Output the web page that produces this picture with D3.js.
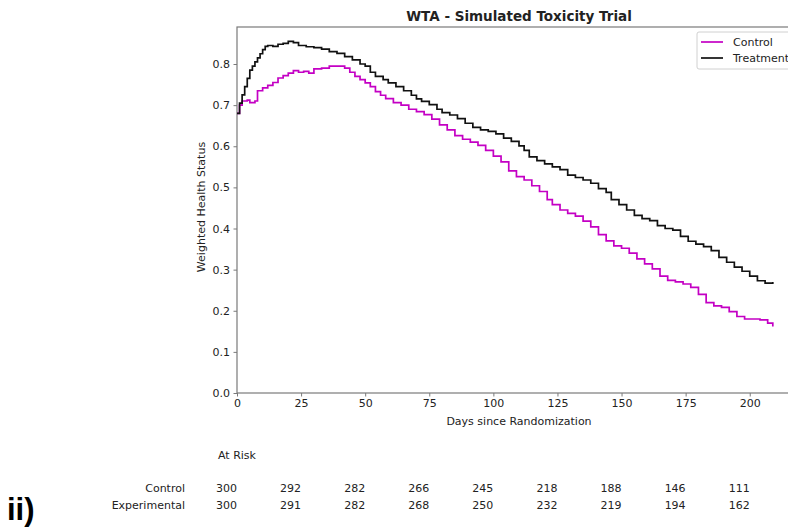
<!DOCTYPE html>
<html>
<head>
<meta charset="utf-8">
<script src="https://cdn.jsdelivr.net/npm/d3@7"></script>
<style>
  body { margin: 0; background: #fff; }
  svg { font-family: "DejaVu Sans", sans-serif; }
</style>
</head>
<body>
<svg id="chart" width="788" height="527"></svg>
<script>
// Step curves (day, weighted health status)
const treatDays = [0,1,2,3,4,5,6,7,8,9,10,11,12,14,16,18,20,22,24,27,30,33,36,39,42,45,48,50,52,54,57,59,62,65,68,70,72,75,78,80,83,86,89,92,95,98,101,104,107,110,112,114,117,120,123,126,129,132,135,138,141,144,146,149,152,155,158,161,164,167,170,173,176,179,182,185,188,191,194,197,200,203,206,209];
const treatValues = [0.680,0.705,0.725,0.745,0.765,0.785,0.795,0.805,0.815,0.825,0.835,0.843,0.845,0.843,0.848,0.850,0.855,0.852,0.845,0.842,0.840,0.836,0.830,0.826,0.818,0.810,0.800,0.795,0.780,0.770,0.762,0.754,0.745,0.735,0.724,0.715,0.709,0.701,0.690,0.682,0.676,0.667,0.656,0.646,0.640,0.636,0.630,0.620,0.612,0.601,0.590,0.574,0.565,0.557,0.550,0.543,0.530,0.524,0.518,0.510,0.497,0.488,0.470,0.458,0.445,0.432,0.424,0.419,0.407,0.400,0.396,0.381,0.369,0.362,0.356,0.346,0.330,0.318,0.306,0.296,0.284,0.273,0.267,0.270];

const ctrlDays = [0,1,2,4,5,7,8,10,12,14,16,18,20,22,24,26,28,30,33,36,39,42,44,46,48,50,52,54,56,58,61,64,67,70,73,76,79,82,85,88,91,94,97,100,103,106,109,112,115,118,121,123,126,129,132,135,138,141,144,147,150,153,156,159,162,165,168,171,174,177,180,183,186,189,192,195,198,201,204,207,209];
const ctrlValues = [0.680,0.700,0.710,0.712,0.706,0.710,0.735,0.742,0.748,0.755,0.766,0.772,0.778,0.784,0.780,0.782,0.778,0.788,0.790,0.795,0.795,0.790,0.780,0.770,0.762,0.754,0.745,0.733,0.724,0.716,0.706,0.700,0.690,0.684,0.677,0.666,0.652,0.640,0.626,0.617,0.610,0.602,0.590,0.576,0.562,0.540,0.526,0.518,0.504,0.490,0.470,0.458,0.445,0.437,0.430,0.418,0.404,0.385,0.370,0.358,0.352,0.340,0.326,0.314,0.302,0.284,0.274,0.270,0.265,0.257,0.240,0.220,0.212,0.208,0.198,0.186,0.180,0.180,0.178,0.170,0.162];

// At-risk table
const riskDays = [0,25,50,75,100,125,150,175,200];
const riskControl = [300,292,282,266,245,218,188,146,111];
const riskExperimental = [300,291,282,268,250,232,219,194,162];

const xTicks = [0,25,50,75,100,125,150,175,200];
const yTicks = [0,0.1,0.2,0.3,0.4,0.5,0.6,0.7,0.8];

const svg = d3.select("#chart");
const margin = {top: 27, left: 237, bottom: 393, right: 801};
const spineColor = "#7a7a7a";
const textColor = "#222";
const magenta = "#c400c4";
const fs = "11px";

const x = d3.scaleLinear().domain([0, 220]).range([margin.left, margin.right]);
const y = d3.scaleLinear().domain([0, 0.89]).range([margin.bottom, margin.top]);

// axes
const xAxis = svg.append("g")
    .attr("transform", `translate(0,${margin.bottom})`)
    .call(d3.axisBottom(x).tickValues(xTicks).tickSize(3.5).tickPadding(3));
const yAxis = svg.append("g")
    .attr("transform", `translate(${margin.left},0)`)
    .call(d3.axisLeft(y).tickValues(yTicks).tickFormat(d3.format(".1f")).tickSize(3.5).tickPadding(3.5));

[xAxis, yAxis].forEach(a => {
    a.select(".domain").remove();
    a.selectAll(".tick line").attr("stroke", spineColor).attr("stroke-width", 1);
    a.selectAll(".tick text").attr("fill", textColor).attr("font-size", fs)
        .attr("font-family", "DejaVu Sans");
});

// spines
svg.append("rect")
    .attr("x", margin.left).attr("y", margin.top)
    .attr("width", margin.right - margin.left)
    .attr("height", margin.bottom - margin.top)
    .attr("fill", "none")
    .attr("stroke", spineColor)
    .attr("stroke-width", 1.2);

// lines
const line = d3.line()
    .x(d => x(d[0]))
    .y(d => y(d[1]))
    .curve(d3.curveStepAfter);

svg.append("path")
    .datum(ctrlDays.map((d, i) => [d, ctrlValues[i]]))
    .attr("fill", "none")
    .attr("stroke", magenta)
    .attr("stroke-width", 1.7)
    .attr("d", line);

svg.append("path")
    .datum(treatDays.map((d, i) => [d, treatValues[i]]))
    .attr("fill", "none")
    .attr("stroke", "#111")
    .attr("stroke-width", 1.7)
    .attr("d", line);

// title and labels
svg.append("text")
    .attr("x", (margin.left + margin.right) / 2)
    .attr("y", 21)
    .attr("text-anchor", "middle")
    .attr("font-size", "13.5px")
    .attr("font-weight", "bold")
    .attr("fill", textColor)
    .text("WTA - Simulated Toxicity Trial");

svg.append("text")
    .attr("x", (margin.left + margin.right) / 2)
    .attr("y", 425)
    .attr("text-anchor", "middle")
    .attr("font-size", fs)
    .attr("fill", textColor)
    .text("Days since Randomization");

svg.append("text")
    .attr("transform", `translate(205,${(margin.top + margin.bottom) / 2 - 3}) rotate(-90)`)
    .attr("text-anchor", "middle")
    .attr("font-size", fs)
    .attr("fill", textColor)
    .text("Weighted Health Status");

// legend
const legend = svg.append("g").attr("transform", "translate(697,32)");
legend.append("rect")
    .attr("width", 110).attr("height", 37)
    .attr("rx", 2)
    .attr("fill", "#fff")
    .attr("stroke", "#d0d0d0");
[["Control", magenta], ["Treatment", "#111"]].forEach((item, i) => {
    legend.append("line")
        .attr("x1", 4).attr("x2", 26)
        .attr("y1", 10 + i * 16).attr("y2", 10 + i * 16)
        .attr("stroke", item[1]).attr("stroke-width", 1.7);
    legend.append("text")
        .attr("x", 36).attr("y", 14 + i * 16)
        .attr("font-size", fs)
        .attr("fill", textColor)
        .text(item[0]);
});

// at risk table
svg.append("text")
    .attr("x", 218).attr("y", 459)
    .attr("font-size", fs).attr("fill", textColor)
    .text("At Risk");

[["Control", riskControl, 492], ["Experimental", riskExperimental, 509]].forEach(row => {
    svg.append("text")
        .attr("x", 185).attr("y", row[2])
        .attr("text-anchor", "end")
        .attr("font-size", fs).attr("fill", textColor)
        .text(row[0]);
    svg.selectAll(null)
        .data(row[1])
        .enter().append("text")
        .attr("x", (d, i) => x(riskDays[i]))
        .attr("y", row[2])
        .attr("text-anchor", "end")
        .attr("font-size", fs).attr("fill", textColor)
        .text(d => d);
});

// panel label
svg.append("text")
    .attr("x", 7).attr("y", 520)
    .attr("font-family", "Liberation Sans")
    .attr("font-size", "31px")
    .attr("font-weight", "bold")
    .attr("fill", "#000")
    .text("ii)");
</script>
</body>
</html>
